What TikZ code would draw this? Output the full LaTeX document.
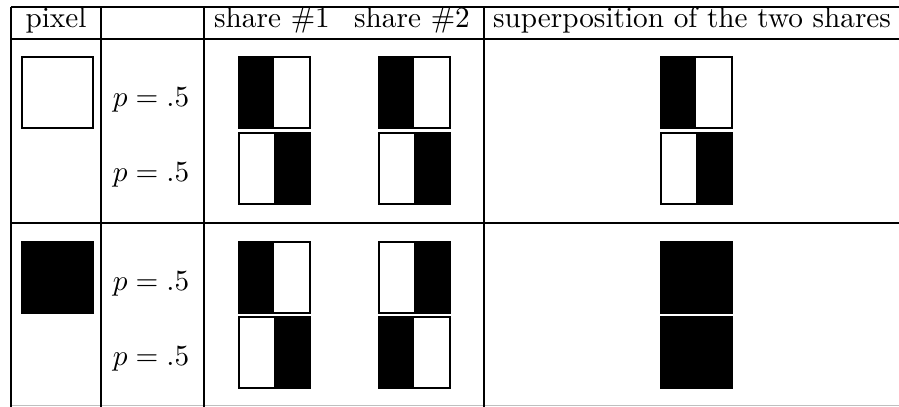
\documentclass[tikz,border=0pt]{standalone}
\newcommand\hbxL[2]{\fill (#1,#2) rectangle ++(35,71);\draw[boxline] (#1,#2) rectangle ++(71,71);}
\newcommand\hbxR[2]{\fill (#1+35,#2) rectangle ++(36,71);\draw[boxline] (#1,#2) rectangle ++(71,71);}
\newcommand\hbxF[2]{\fill (#1,#2) rectangle ++(71,71);\draw[boxline] (#1,#2) rectangle ++(71,71);}
\newcommand\hbxN[2]{\draw[boxline] (#1,#2) rectangle ++(71,71);}
\begin{document}
\begin{tikzpicture}[x=0.342pt,y=-0.342pt,
  rule/.style={line width=0.7pt},
  boxline/.style={line width=0.7pt},
  lbl/.style={inner sep=0pt, font=\fontsize{10}{12}\selectfont}]
\useasboundingbox (0,0) rectangle (899,407);
% rules
\draw[rule] (11,7) -- (899,7);
\draw[rule] (11,39) -- (899,39);
\draw[line width=1pt] (11,223) -- (899,223);
\draw[line width=0.6pt, black!25] (11,405.5) -- (899,405.5);
\foreach \x in {11,101,204,484} \draw[rule] (\x,7) -- (\x,407);
% header
\node[lbl, anchor=base] (h1) at (56,28) {pixel};
\node[lbl, anchor=base] (h2) at (272,28) {share $\#1$};
\node[lbl, anchor=base] (h3) at (412,28) {share $\#2$};
\node[lbl, anchor=base] (h4) at (692,28) {superposition of the two shares};
% probabilities
\node[lbl] (p1) at (151,100) {$p = .5$};
\node[lbl] (p2) at (151,175) {$p = .5$};
\node[lbl] (p3) at (151,284) {$p = .5$};
\node[lbl] (p4) at (151,359) {$p = .5$};
% pixels
\hbxN{22}{57}
\hbxF{22}{242}
% row 1
\hbxL{239}{57} \hbxR{239}{133}
\hbxL{379}{57} \hbxR{379}{133}
\hbxL{661}{57} \hbxR{661}{133}
% row 2
\hbxL{239}{242} \hbxR{239}{317}
\hbxR{379}{242} \hbxL{379}{317}
\hbxF{661}{242} \hbxF{661}{317}
\end{tikzpicture}
\end{document}
